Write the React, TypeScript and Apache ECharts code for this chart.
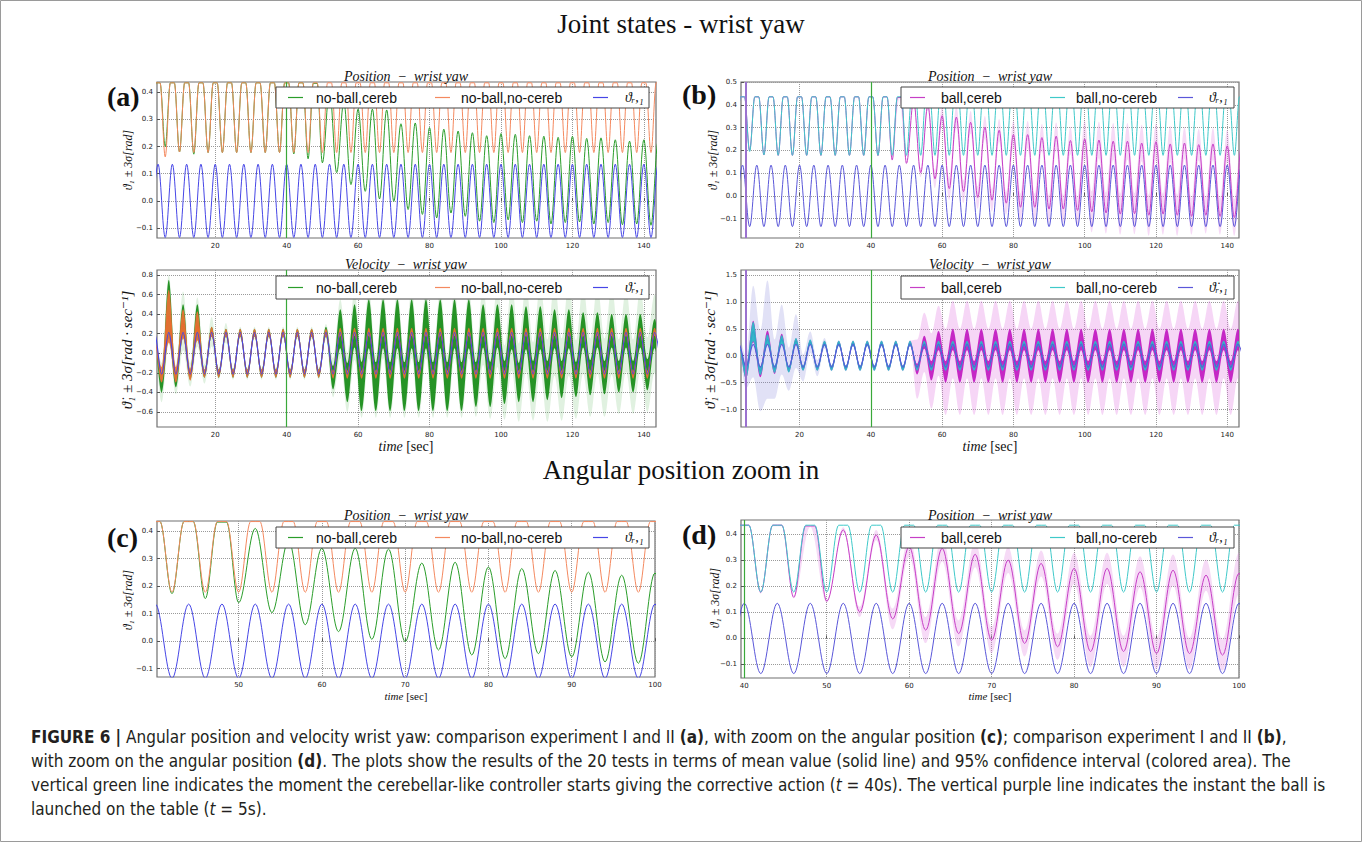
import React, { useEffect, useRef } from "react";
import * as echarts from "echarts";

// ---------------- data ----------------
// Position extremes: troughs every 4 s starting at 2 s, peaks every 4 s starting at 4 s
const posTroughTimes = [2, 6, 10, 14, 18, 22, 26, 30, 34, 38, 42, 46, 50, 54, 58, 62, 66, 70, 74, 78, 82, 86, 90, 94, 98, 102, 106, 110, 114, 118, 122, 126, 130, 134, 138, 142, 146];
const posPeakTimes = [4, 8, 12, 16, 20, 24, 28, 32, 36, 40, 44, 48, 52, 56, 60, 64, 68, 72, 76, 80, 84, 88, 92, 96, 100, 104, 108, 112, 116, 120, 124, 128, 132, 136, 140, 144];
// Velocity extremes
const velTroughTimes = [1, 5, 9, 13, 17, 21, 25, 29, 33, 37, 41, 45, 49, 53, 57, 61, 65, 69, 73, 77, 81, 85, 89, 93, 97, 101, 105, 109, 113, 117, 121, 125, 129, 133, 137, 141, 145];
const velPeakTimes = [3, 7, 11, 15, 19, 23, 27, 31, 35, 39, 43, 47, 51, 55, 59, 63, 67, 71, 75, 79, 83, 87, 91, 95, 99, 103, 107, 111, 115, 119, 123, 127, 131, 135, 139, 143];

// reference theta_r,1
const refPosPeaks = [0.135, 0.135, 0.135, 0.135, 0.135, 0.135, 0.135, 0.135, 0.135, 0.135, 0.135, 0.135, 0.135, 0.135, 0.135, 0.135, 0.135, 0.135, 0.135, 0.135, 0.135, 0.135, 0.135, 0.135, 0.135, 0.135, 0.135, 0.135, 0.135, 0.135, 0.135, 0.135, 0.135, 0.135, 0.135, 0.135];
const refPosTroughs = [-0.135, -0.135, -0.135, -0.135, -0.135, -0.135, -0.135, -0.135, -0.135, -0.135, -0.135, -0.135, -0.135, -0.135, -0.135, -0.135, -0.135, -0.135, -0.135, -0.135, -0.135, -0.135, -0.135, -0.135, -0.135, -0.135, -0.135, -0.135, -0.135, -0.135, -0.135, -0.135, -0.135, -0.135, -0.135, -0.135, -0.135];

// no-ball,no-cereb
const noCerebPosPeaks = [0.435, 0.435, 0.435, 0.435, 0.435, 0.435, 0.435, 0.435, 0.435, 0.435, 0.435, 0.435, 0.435, 0.435, 0.435, 0.435, 0.435, 0.435, 0.435, 0.435, 0.435, 0.435, 0.435, 0.435, 0.435, 0.435, 0.435, 0.435, 0.435, 0.435, 0.435, 0.435, 0.435, 0.435, 0.435, 0.435];
const noCerebPosTroughs = [0.178, 0.162, 0.18, 0.178, 0.178, 0.178, 0.178, 0.178, 0.178, 0.178, 0.178, 0.178, 0.178, 0.178, 0.178, 0.178, 0.178, 0.178, 0.178, 0.178, 0.178, 0.178, 0.178, 0.178, 0.178, 0.178, 0.178, 0.178, 0.178, 0.178, 0.178, 0.178, 0.178, 0.178, 0.178, 0.178, 0.178];

// no-ball,cereb
const cerebPosPeaks = [0.435, 0.435, 0.435, 0.435, 0.435, 0.435, 0.435, 0.435, 0.435, 0.435, 0.435, 0.433, 0.41, 0.365, 0.338, 0.338, 0.335, 0.284, 0.287, 0.27, 0.264, 0.257, 0.251, 0.24, 0.248, 0.245, 0.24, 0.238, 0.234, 0.238, 0.23, 0.232, 0.225, 0.22, 0.225, 0.22];
const cerebPosTroughs = [0.178, 0.2, 0.18, 0.172, 0.178, 0.178, 0.178, 0.178, 0.178, 0.178, 0.173, 0.155, 0.14, 0.104, 0.06, 0.035, 0.007, -0.002, -0.032, -0.05, -0.063, -0.045, -0.057, -0.075, -0.08, -0.07, -0.08, -0.075, -0.085, -0.08, -0.078, -0.085, -0.08, -0.088, -0.085, -0.09, -0.088];

// ball,no-cereb
const ballNoCerebPosPeaks = [0.435, 0.435, 0.435, 0.435, 0.435, 0.435, 0.435, 0.435, 0.435, 0.435, 0.435, 0.435, 0.435, 0.435, 0.435, 0.435, 0.435, 0.435, 0.435, 0.435, 0.435, 0.435, 0.435, 0.435, 0.435, 0.435, 0.435, 0.435, 0.435, 0.435, 0.435, 0.435, 0.435, 0.435, 0.435, 0.435];
const ballNoCerebPosTroughs = [0.178, 0.195, 0.18, 0.178, 0.178, 0.178, 0.178, 0.178, 0.178, 0.178, 0.178, 0.178, 0.178, 0.178, 0.178, 0.178, 0.178, 0.178, 0.178, 0.178, 0.178, 0.178, 0.178, 0.178, 0.178, 0.178, 0.178, 0.178, 0.178, 0.178, 0.178, 0.178, 0.178, 0.178, 0.178, 0.178, 0.178];

// ball,cereb (mean and confidence spread)
const ballCerebPosPeaks = [0.435, 0.435, 0.435, 0.435, 0.435, 0.435, 0.435, 0.435, 0.435, 0.435, 0.435, 0.432, 0.417, 0.397, 0.352, 0.346, 0.323, 0.301, 0.288, 0.269, 0.269, 0.256, 0.262, 0.243, 0.25, 0.245, 0.24, 0.24, 0.232, 0.238, 0.228, 0.232, 0.225, 0.228, 0.22, 0.22];
const ballCerebPosTroughs = [0.178, 0.2, 0.18, 0.178, 0.178, 0.178, 0.178, 0.178, 0.178, 0.178, 0.177, 0.158, 0.143, 0.102, 0.075, 0.032, 0.019, -0.007, -0.019, -0.032, -0.05, -0.05, -0.058, -0.058, -0.064, -0.07, -0.075, -0.08, -0.078, -0.085, -0.08, -0.085, -0.09, -0.085, -0.09, -0.095, -0.09];
const ballCerebPosPeakSpread = [0.004, 0.004, 0.004, 0.004, 0.004, 0.004, 0.004, 0.004, 0.004, 0.004, 0.004, 0.004, 0.01, 0.02, 0.04, 0.05, 0.05, 0.05, 0.05, 0.06, 0.06, 0.06, 0.06, 0.06, 0.08, 0.08, 0.08, 0.08, 0.08, 0.08, 0.08, 0.07, 0.07, 0.07, 0.07, 0.07];
const ballCerebPosTroughSpread = [0.004, 0.004, 0.004, 0.004, 0.004, 0.004, 0.004, 0.004, 0.004, 0.004, 0.004, 0.004, 0.004, 0.02, 0.04, 0.05, 0.05, 0.05, 0.05, 0.05, 0.06, 0.06, 0.06, 0.06, 0.06, 0.09, 0.09, 0.09, 0.09, 0.09, 0.09, 0.09, 0.08, 0.08, 0.08, 0.08, 0.08];

// velocity reference
const refVelPeaks = [0.212, 0.212, 0.212, 0.212, 0.212, 0.212, 0.212, 0.212, 0.212, 0.212, 0.212, 0.212, 0.212, 0.212, 0.212, 0.212, 0.212, 0.212, 0.212, 0.212, 0.212, 0.212, 0.212, 0.212, 0.212, 0.212, 0.212, 0.212, 0.212, 0.212, 0.212, 0.212, 0.212, 0.212, 0.212, 0.212];
const refVelTroughs = [-0.212, -0.212, -0.212, -0.212, -0.212, -0.212, -0.212, -0.212, -0.212, -0.212, -0.212, -0.212, -0.212, -0.212, -0.212, -0.212, -0.212, -0.212, -0.212, -0.212, -0.212, -0.212, -0.212, -0.212, -0.212, -0.212, -0.212, -0.212, -0.212, -0.212, -0.212, -0.212, -0.212, -0.212, -0.212, -0.212, -0.212];

// velocity no-ball,no-cereb
const noCerebVelPeakMean = [0.12, 0.38, 0.3, 0.28, 0.22, 0.21, 0.21, 0.21, 0.21, 0.21, 0.21, 0.21, 0.21, 0.22, 0.22, 0.22, 0.22, 0.22, 0.22, 0.22, 0.22, 0.22, 0.22, 0.22, 0.22, 0.22, 0.22, 0.22, 0.22, 0.22, 0.22, 0.22, 0.22, 0.22, 0.22, 0.22];
const noCerebVelPeakSpread = [0.05, 0.27, 0.15, 0.15, 0.05, 0.04, 0.04, 0.04, 0.04, 0.04, 0.04, 0.04, 0.04, 0.04, 0.04, 0.04, 0.04, 0.04, 0.04, 0.04, 0.04, 0.04, 0.04, 0.04, 0.04, 0.04, 0.04, 0.04, 0.04, 0.04, 0.04, 0.04, 0.04, 0.04, 0.04, 0.04];
const noCerebVelTroughMean = [-0.05, -0.22, -0.22, -0.22, -0.21, -0.21, -0.21, -0.21, -0.21, -0.21, -0.21, -0.21, -0.21, -0.22, -0.22, -0.22, -0.22, -0.22, -0.22, -0.22, -0.22, -0.22, -0.22, -0.22, -0.22, -0.22, -0.22, -0.22, -0.22, -0.22, -0.22, -0.22, -0.22, -0.22, -0.22, -0.22, -0.22];
const noCerebVelTroughSpread = [0.03, 0.08, 0.08, 0.06, 0.04, 0.04, 0.04, 0.04, 0.04, 0.04, 0.04, 0.04, 0.04, 0.04, 0.04, 0.04, 0.04, 0.04, 0.04, 0.04, 0.04, 0.04, 0.04, 0.04, 0.04, 0.04, 0.04, 0.04, 0.04, 0.04, 0.04, 0.04, 0.04, 0.04, 0.04, 0.04, 0.04];

// velocity no-ball,cereb
const cerebVelPeakMean = [0.12, 0.45, 0.33, 0.32, 0.22, 0.21, 0.21, 0.21, 0.21, 0.21, 0.21, 0.21, 0.22, 0.25, 0.28, 0.3, 0.3, 0.3, 0.3, 0.3, 0.3, 0.3, 0.3, 0.28, 0.28, 0.27, 0.26, 0.26, 0.25, 0.25, 0.24, 0.24, 0.23, 0.23, 0.23, 0.2];
const cerebVelPeakSpread = [0.05, 0.3, 0.17, 0.18, 0.05, 0.04, 0.04, 0.04, 0.04, 0.04, 0.04, 0.04, 0.05, 0.2, 0.22, 0.25, 0.25, 0.25, 0.25, 0.25, 0.25, 0.25, 0.25, 0.22, 0.22, 0.23, 0.22, 0.22, 0.2, 0.2, 0.18, 0.18, 0.17, 0.17, 0.17, 0.15];
const cerebVelPeakHalo = [0.1, 0.35, 0.3, 0.25, 0.15, 0.1, 0.06, 0.06, 0.06, 0.06, 0.06, 0.06, 0.08, 0.3, 0.35, 0.35, 0.35, 0.35, 0.35, 0.35, 0.35, 0.35, 0.35, 0.4, 0.42, 0.45, 0.45, 0.45, 0.48, 0.48, 0.45, 0.45, 0.45, 0.42, 0.42, 0.4];
const cerebVelTroughMean = [-0.05, -0.3, -0.27, -0.22, -0.21, -0.21, -0.21, -0.21, -0.21, -0.21, -0.21, -0.21, -0.21, -0.25, -0.3, -0.34, -0.34, -0.34, -0.34, -0.34, -0.34, -0.34, -0.34, -0.32, -0.32, -0.3, -0.3, -0.29, -0.28, -0.27, -0.27, -0.25, -0.25, -0.24, -0.24, -0.22, -0.22];
const cerebVelTroughSpread = [0.03, 0.1, 0.08, 0.05, 0.04, 0.04, 0.04, 0.04, 0.04, 0.04, 0.04, 0.04, 0.04, 0.12, 0.2, 0.25, 0.25, 0.25, 0.25, 0.25, 0.25, 0.25, 0.25, 0.23, 0.23, 0.22, 0.2, 0.21, 0.2, 0.19, 0.18, 0.18, 0.17, 0.16, 0.16, 0.16, 0.15];
const cerebVelTroughHalo = [0.05, 0.2, 0.15, 0.12, 0.1, 0.06, 0.06, 0.06, 0.06, 0.06, 0.06, 0.06, 0.06, 0.2, 0.3, 0.32, 0.32, 0.32, 0.32, 0.32, 0.32, 0.32, 0.32, 0.33, 0.35, 0.38, 0.4, 0.4, 0.42, 0.42, 0.4, 0.4, 0.4, 0.38, 0.38, 0.38, 0.36];

// velocity ball,no-cereb
const ballNoCerebVelPeakMean = [0.15, 0.45, 0.3, 0.3, 0.27, 0.25, 0.23, 0.23, 0.23, 0.23, 0.23, 0.23, 0.23, 0.23, 0.23, 0.23, 0.23, 0.23, 0.23, 0.23, 0.23, 0.23, 0.23, 0.23, 0.23, 0.23, 0.23, 0.23, 0.23, 0.23, 0.23, 0.23, 0.23, 0.23, 0.23, 0.23];
const ballNoCerebVelPeakSpread = [0.05, 0.18, 0.1, 0.08, 0.06, 0.05, 0.05, 0.05, 0.05, 0.05, 0.05, 0.05, 0.05, 0.05, 0.05, 0.05, 0.05, 0.05, 0.05, 0.05, 0.05, 0.05, 0.05, 0.05, 0.05, 0.05, 0.05, 0.05, 0.05, 0.05, 0.05, 0.05, 0.05, 0.05, 0.05, 0.05];
const ballNoCerebVelPeakHalo = [0.2, 0.85, 1.1, 0.65, 0.5, 0.2, 0.1, 0.06, 0.06, 0.06, 0.06, 0.06, 0.06, 0.06, 0.06, 0.06, 0.06, 0.06, 0.06, 0.06, 0.06, 0.06, 0.06, 0.06, 0.06, 0.06, 0.06, 0.06, 0.06, 0.06, 0.06, 0.06, 0.06, 0.06, 0.06, 0.06];
const ballNoCerebVelTroughMean = [-0.05, -0.3, -0.28, -0.25, -0.25, -0.23, -0.23, -0.23, -0.23, -0.23, -0.23, -0.23, -0.23, -0.23, -0.23, -0.23, -0.23, -0.23, -0.23, -0.23, -0.23, -0.23, -0.23, -0.23, -0.23, -0.23, -0.23, -0.23, -0.23, -0.23, -0.23, -0.23, -0.23, -0.23, -0.23, -0.23, -0.23];
const ballNoCerebVelTroughSpread = [0.03, 0.12, 0.08, 0.07, 0.06, 0.05, 0.05, 0.05, 0.05, 0.05, 0.05, 0.05, 0.05, 0.05, 0.05, 0.05, 0.05, 0.05, 0.05, 0.05, 0.05, 0.05, 0.05, 0.05, 0.05, 0.05, 0.05, 0.05, 0.05, 0.05, 0.05, 0.05, 0.05, 0.05, 0.05, 0.05, 0.05];
const ballNoCerebVelTroughHalo = [0.1, 0.3, 0.75, 0.55, 0.4, 0.25, 0.15, 0.06, 0.06, 0.06, 0.06, 0.06, 0.06, 0.06, 0.06, 0.06, 0.06, 0.06, 0.06, 0.06, 0.06, 0.06, 0.06, 0.06, 0.06, 0.06, 0.06, 0.06, 0.06, 0.06, 0.06, 0.06, 0.06, 0.06, 0.06, 0.06, 0.06];

// velocity ball,cereb
const ballCerebVelPeakMean = [0.15, 0.45, 0.35, 0.33, 0.27, 0.25, 0.23, 0.23, 0.23, 0.23, 0.23, 0.23, 0.23, 0.25, 0.28, 0.3, 0.3, 0.3, 0.3, 0.3, 0.3, 0.3, 0.3, 0.3, 0.3, 0.3, 0.3, 0.3, 0.3, 0.3, 0.3, 0.3, 0.3, 0.3, 0.3, 0.3];
const ballCerebVelPeakSpread = [0.05, 0.2, 0.12, 0.08, 0.05, 0.04, 0.04, 0.04, 0.04, 0.04, 0.04, 0.04, 0.04, 0.12, 0.18, 0.2, 0.2, 0.2, 0.2, 0.2, 0.2, 0.2, 0.2, 0.2, 0.2, 0.2, 0.2, 0.2, 0.2, 0.2, 0.2, 0.2, 0.2, 0.2, 0.2, 0.2];
const ballCerebVelPeakHalo = [0.05, 0.05, 0.05, 0.05, 0.05, 0.05, 0.05, 0.05, 0.05, 0.05, 0.05, 0.05, 0.05, 0.55, 0.65, 0.72, 0.72, 0.72, 0.72, 0.72, 0.72, 0.72, 0.72, 0.72, 0.72, 0.72, 0.72, 0.72, 0.72, 0.72, 0.72, 0.72, 0.72, 0.72, 0.72, 0.72];
const ballCerebVelTroughMean = [-0.05, -0.3, -0.3, -0.27, -0.25, -0.23, -0.23, -0.23, -0.23, -0.23, -0.23, -0.23, -0.23, -0.25, -0.28, -0.3, -0.3, -0.3, -0.3, -0.3, -0.3, -0.3, -0.3, -0.3, -0.3, -0.3, -0.3, -0.3, -0.3, -0.3, -0.3, -0.3, -0.3, -0.3, -0.3, -0.3, -0.3];
const ballCerebVelTroughSpread = [0.03, 0.12, 0.1, 0.07, 0.05, 0.04, 0.04, 0.04, 0.04, 0.04, 0.04, 0.04, 0.04, 0.1, 0.18, 0.2, 0.2, 0.2, 0.2, 0.2, 0.2, 0.2, 0.2, 0.2, 0.2, 0.2, 0.2, 0.2, 0.2, 0.2, 0.2, 0.2, 0.2, 0.2, 0.2, 0.2, 0.2];
const ballCerebVelTroughHalo = [0.05, 0.05, 0.05, 0.05, 0.05, 0.05, 0.05, 0.05, 0.05, 0.05, 0.05, 0.05, 0.05, 0.55, 0.7, 0.8, 0.8, 0.8, 0.8, 0.8, 0.8, 0.8, 0.8, 0.8, 0.8, 0.8, 0.8, 0.8, 0.8, 0.8, 0.8, 0.8, 0.8, 0.8, 0.8, 0.8, 0.8];

// tick labels
const xTicksFull = [20, 40, 60, 80, 100, 120, 140];
const xTicksC = [50, 60, 70, 80, 90, 100];
const xTicksD = [40, 50, 60, 70, 80, 90, 100];
const yTicksPos = [-0.1, 0.0, 0.1, 0.2, 0.3, 0.4];
const yTicksPosB = [-0.1, 0.0, 0.1, 0.2, 0.3, 0.4, 0.5];
const yTicksVelA = [-0.6, -0.4, -0.2, 0.0, 0.2, 0.4, 0.6, 0.8];
const yTicksVelB = [-1.0, -0.5, 0.0, 0.5, 1.0, 1.5];
const cerebStart = 40;
const ballLaunch = 5;

// ---------------- helpers ----------------
const K = 0.36;
const PLATEAU = 0.43;
const PLATEAU_HALF = 0.55;
const SERIF = '"Liberation Serif", "DejaVu Serif", serif';
const SANS = '"Liberation Sans", Arial, sans-serif';
const TICKF = '"DejaVu Sans", sans-serif';
const CAPF = '"Liberation Sans Narrow", "DejaVu Sans Condensed", "Liberation Sans", sans-serif';

const COL = {
  green: "#2a9d2a",
  orange: "#f4895f",
  blue: "#4646e6",
  magenta: "#c63fc6",
  cyan: "#3fc9c9",
  refB: "#5a57d9",
  vgreen: "#3aa83a",
  purple: "#9b72cf",
};

type P = [number, number];

function wave(tT: number[], vT: number[], tP: number[], vP: number[], flat: boolean): P[] {
  const pts: { t: number; v: number; peak: boolean }[] = [];
  tT.forEach((t, i) => pts.push({ t, v: vT[i], peak: false }));
  tP.forEach((t, i) => pts.push({ t, v: vP[i], peak: true }));
  pts.sort((a, b) => a.t - b.t);
  const out: P[] = [];
  for (const p of pts) {
    if (flat && p.peak && p.v >= PLATEAU) {
      out.push([p.t - PLATEAU_HALF, p.v]);
      out.push([p.t + PLATEAU_HALF, p.v]);
    } else out.push([p.t, p.v]);
  }
  return out;
}

function band(tT: number[], mT: number[], sT: number[], tP: number[], mP: number[], sP: number[], flat: boolean) {
  return {
    upper: wave(tT, mT.map((v, i) => v + sT[i]), tP, mP.map((v, i) => v + sP[i]), flat),
    lower: wave(tT, mT.map((v, i) => v - sT[i]), tP, mP.map((v, i) => v - sP[i]), flat),
  };
}

function bez(pts: number[][]): string {
  let s = "";
  for (let i = 1; i < pts.length; i++) {
    const [x0, y0] = pts[i - 1];
    const [x1, y1] = pts[i];
    const dx = (x1 - x0) * K;
    s += `C${(x0 + dx).toFixed(2)} ${y0.toFixed(2)} ${(x1 - dx).toFixed(2)} ${y1.toFixed(2)} ${x1.toFixed(2)} ${y1.toFixed(2)}`;
  }
  return s;
}

function bandSeries(g: number, edges: { upper: P[]; lower: P[] }, fill: string) {
  return {
    type: "custom",
    xAxisIndex: g,
    yAxisIndex: g,
    clip: true,
    silent: true,
    data: [edges.upper[Math.floor(edges.upper.length / 2)]],
    renderItem: (_params: any, api: any) => {
      const up = edges.upper.map((p) => api.coord(p));
      const lo = edges.lower.map((p) => api.coord(p)).reverse();
      const d = `M${up[0][0].toFixed(2)} ${up[0][1].toFixed(2)}` + bez(up) + `L${lo[0][0].toFixed(2)} ${lo[0][1].toFixed(2)}` + bez(lo) + "Z";
      return { type: "path", shape: { pathData: d }, style: { fill, stroke: null } };
    },
  };
}

function lineSeries(g: number, name: string, data: P[], color: string, width = 1, extra: any = {}) {
  return {
    type: "line",
    name,
    xAxisIndex: g,
    yAxisIndex: g,
    data,
    symbol: "none",
    showSymbol: false,
    smooth: K,
    smoothMonotone: "x",
    lineStyle: { color, width },
    itemStyle: { color },
    silent: true,
    ...extra,
  };
}

function vlines(xs: [number, string, number][]) {
  return {
    markLine: {
      silent: true,
      symbol: ["none", "none"],
      label: { show: false },
      animation: false,
      data: xs.map(([x, c, w]) => ({ xAxis: x, lineStyle: { color: c, width: w, type: "solid" } })),
    },
  };
}

const fmt = (v: number) => (v < 0 ? "\u2212" : "") + Math.abs(v).toFixed(1);

const grids = [
  { left: 157, top: 82, width: 499, height: 156 },
  { left: 157, top: 270, width: 499, height: 157 },
  { left: 741, top: 82, width: 498, height: 156 },
  { left: 741, top: 270, width: 498, height: 157 },
  { left: 157, top: 521, width: 498, height: 156 },
  { left: 741, top: 520, width: 498, height: 158 },
];
const xRange = [[3.7, 143.4], [3.7, 143.4], [3.57, 143.3], [3.57, 143.3], [40.2, 100], [39.6, 100]];
const yRange = [[-0.137, 0.438], [-0.754, 0.851], [-0.185, 0.5], [-1.324, 1.593], [-0.13, 0.437], [-0.152, 0.455]];
const xTickSets = [xTicksFull, xTicksFull, xTicksFull, xTicksFull, xTicksC, xTicksD];
const yTickSets = [yTicksPos, yTicksVelA, yTicksPosB, yTicksVelB, yTicksPos, yTicksPos];

function buildOption() {
  const refPos = wave(posTroughTimes, refPosTroughs, posPeakTimes, refPosPeaks, true);
  const noCerebPos = wave(posTroughTimes, noCerebPosTroughs, posPeakTimes, noCerebPosPeaks, true);
  const cerebPos = wave(posTroughTimes, cerebPosTroughs, posPeakTimes, cerebPosPeaks, true);
  const ballNoCerebPos = wave(posTroughTimes, ballNoCerebPosTroughs, posPeakTimes, ballNoCerebPosPeaks, true);
  const ballCerebPos = wave(posTroughTimes, ballCerebPosTroughs, posPeakTimes, ballCerebPosPeaks, true);
  const ballCerebPosBand = band(posTroughTimes, ballCerebPosTroughs, ballCerebPosTroughSpread, posPeakTimes, ballCerebPosPeaks, ballCerebPosPeakSpread, true);

  const refVel = wave(velTroughTimes, refVelTroughs, velPeakTimes, refVelPeaks, false);
  const noCerebVelBand = band(velTroughTimes, noCerebVelTroughMean, noCerebVelTroughSpread, velPeakTimes, noCerebVelPeakMean, noCerebVelPeakSpread, false);
  const cerebVelBand = band(velTroughTimes, cerebVelTroughMean, cerebVelTroughSpread, velPeakTimes, cerebVelPeakMean, cerebVelPeakSpread, false);
  const cerebVelHalo = band(velTroughTimes, cerebVelTroughMean, cerebVelTroughHalo, velPeakTimes, cerebVelPeakMean, cerebVelPeakHalo, false);
  const ballNoCerebVelBand = band(velTroughTimes, ballNoCerebVelTroughMean, ballNoCerebVelTroughSpread, velPeakTimes, ballNoCerebVelPeakMean, ballNoCerebVelPeakSpread, false);
  const ballNoCerebVelHalo = band(velTroughTimes, ballNoCerebVelTroughMean, ballNoCerebVelTroughHalo, velPeakTimes, ballNoCerebVelPeakMean, ballNoCerebVelPeakHalo, false);
  const ballCerebVelBand = band(velTroughTimes, ballCerebVelTroughMean, ballCerebVelTroughSpread, velPeakTimes, ballCerebVelPeakMean, ballCerebVelPeakSpread, false);
  const ballCerebVelHalo = band(velTroughTimes, ballCerebVelTroughMean, ballCerebVelTroughHalo, velPeakTimes, ballCerebVelPeakMean, ballCerebVelPeakHalo, false);
  const ballNoCerebVelMean = wave(velTroughTimes, ballNoCerebVelTroughMean, velPeakTimes, ballNoCerebVelPeakMean, false);
  const noCerebVelMean = wave(velTroughTimes, noCerebVelTroughMean, velPeakTimes, noCerebVelPeakMean, false);

  const series: any[] = [
    // (a) position
    lineSeries(0, "no-ball,cereb", cerebPos, COL.green),
    lineSeries(0, "no-ball,no-cereb", noCerebPos, COL.orange),
    lineSeries(0, "ref", refPos, COL.blue, 1, vlines([[cerebStart, COL.vgreen, 1.2]])),
    // (a) velocity
    bandSeries(1, cerebVelHalo, "rgba(60,170,60,0.16)"),
    bandSeries(1, cerebVelBand, "rgba(24,140,24,0.93)"),
    bandSeries(1, noCerebVelBand, "rgba(242,112,52,0.9)"),
    lineSeries(1, "no-ball,no-cereb v", noCerebVelMean, "#f06a30", 0.8),
    lineSeries(1, "ref v", refVel, COL.blue, 1.2, vlines([[cerebStart, COL.vgreen, 1.2]])),
    // (b) position
    bandSeries(2, ballCerebPosBand, "rgba(226,140,226,0.32)"),
    lineSeries(2, "ball,cereb", ballCerebPos, COL.magenta),
    lineSeries(2, "ball,no-cereb", ballNoCerebPos, COL.cyan),
    lineSeries(2, "ref b", refPos, COL.refB, 1, vlines([[cerebStart, COL.vgreen, 1.2], [ballLaunch, COL.purple, 2]])),
    // (b) velocity
    bandSeries(3, ballNoCerebVelHalo, "rgba(120,120,215,0.22)"),
    bandSeries(3, ballCerebVelHalo, "rgba(225,120,225,0.3)"),
    bandSeries(3, ballCerebVelBand, "rgba(192,20,192,0.9)"),
    bandSeries(3, ballNoCerebVelBand, "rgba(40,195,200,0.9)"),
    lineSeries(3, "ball,no-cereb v", ballNoCerebVelMean, "#2aa6c8", 0.8),
    lineSeries(3, "ref bv", refVel, COL.refB, 1.2, vlines([[cerebStart, COL.vgreen, 1.2], [ballLaunch, COL.purple, 2]])),
    // (c)
    lineSeries(4, "no-ball,cereb c", cerebPos, COL.green),
    lineSeries(4, "no-ball,no-cereb c", noCerebPos, COL.orange),
    lineSeries(4, "ref c", refPos, COL.blue),
    // (d)
    bandSeries(5, ballCerebPosBand, "rgba(226,140,226,0.32)"),
    lineSeries(5, "ball,cereb d", ballCerebPos, COL.magenta),
    lineSeries(5, "ball,no-cereb d", ballNoCerebPos, COL.cyan),
    lineSeries(5, "ref d", refPos, COL.refB, 1, vlines([[cerebStart, COL.vgreen, 1.2]])),
  ];

  const xAxis = grids.map((_, i) => ({
    type: "value",
    gridIndex: i,
    min: xRange[i][0],
    max: xRange[i][1],
    axisLine: { show: false },
    axisTick: { show: true, inside: true, length: 3, customValues: xTickSets[i], lineStyle: { color: "#555" } },
    axisLabel: { customValues: xTickSets[i], fontSize: 7, color: "#222", fontFamily: TICKF, margin: 4, formatter: (v: number) => String(Math.round(v)) },
    splitLine: { show: true, lineStyle: { type: "dotted", color: "#9a9a9a", width: 1 } },
  }));
  const yAxis = grids.map((_, i) => ({
    type: "value",
    gridIndex: i,
    min: yRange[i][0],
    max: yRange[i][1],
    axisLine: { show: false },
    axisTick: { show: true, inside: true, length: 3, customValues: yTickSets[i], lineStyle: { color: "#555" } },
    axisLabel: { customValues: yTickSets[i], fontSize: 7, color: "#222", fontFamily: TICKF, margin: 4, formatter: fmt },
    splitLine: { show: true, lineStyle: { type: "dotted", color: "#9a9a9a", width: 1 } },
  }));

  const Z = 100;
  const txt = (x: number, y: number, text: string, font: string, extra: any = {}) => ({
    type: "text",
    z: Z,
    x,
    y,
    style: { text, font, fill: "#111", align: "center", verticalAlign: "middle", ...(extra.style || {}) },
    ...(extra.el || {}),
  });

  const legend = (x: number, y: number, w: number, h: number, items: [string, string, number, number, boolean][]) => {
    const els: any[] = [{ type: "rect", z: Z, shape: { x, y, width: w, height: h }, style: { fill: "#fff", stroke: "#444", lineWidth: 1 } }];
    items.forEach(([label, color, lx, tx, math]) => {
      els.push({ type: "line", z: Z + 1, shape: { x1: x + lx, y1: y + h / 2, x2: x + lx + 15, y2: y + h / 2 }, style: { stroke: color, lineWidth: 1.2 } });
      els.push({
        type: "text",
        z: Z + 1,
        x: x + tx,
        y: y + h / 2,
        style: { text: label, fill: "#111", font: math ? `italic 14px ${SERIF}` : `14px ${SANS}`, align: "left", verticalAlign: "middle" },
      });
    });
    return els;
  };

  const posTitle = "Position  \u2212  wrist yaw";
  const velTitle = "Velocity  \u2212  wrist yaw";
  const posY = "\u03d1\u2081 \u00b1 3\u03c3[rad]";
  const velY = "\u03d1\u0307\u2081 \u00b1 3\u03c3[rad \u00b7 sec\u207b\u00b9]";
  const refLab = "\u03d1\u1d63,\u2081";
  const refVelLab = "\u03d1\u0307\u1d63,\u2081";
  const timeRich = { i: { fontStyle: "italic", fontFamily: SERIF, fontSize: 14, fill: "#111" }, n: { fontFamily: SERIF, fontSize: 14, fill: "#111" } };
  const timeRichS = { i: { fontStyle: "italic", fontFamily: SERIF, fontSize: 11, fill: "#111" }, n: { fontFamily: SERIF, fontSize: 11, fill: "#111" } };

  const CAP_SIZE = 17;
  const capRich = {
    b: { fontWeight: "bold", fontFamily: CAPF, fontSize: CAP_SIZE, fill: "#231f20" },
    i: { fontStyle: "italic", fontFamily: CAPF, fontSize: CAP_SIZE, fill: "#231f20" },
    n: { fontFamily: CAPF, fontSize: CAP_SIZE, fill: "#231f20" },
  };
  const capLines = [
    "{b|FIGURE 6 |}{n| Angular position and velocity wrist yaw: comparison experiment I and II }{b|(a)}{n|, with zoom on the angular position }{b|(c)}{n|; comparison experiment I and II }{b|(b)}{n|,}",
    "{n|with zoom on the angular position }{b|(d)}{n|. The plots show the results of the 20 tests in terms of mean value (solid line) and 95% confidence interval (colored area). The}",
    "{n|vertical green line indicates the moment the cerebellar-like controller starts giving the corrective action (}{i|t}{n| = 40s). The vertical purple line indicates the instant the ball is}",
    "{n|launched on the table (}{i|t}{n| = 5s).}",
  ];

  const graphic: any[] = [
    { type: "rect", z: Z, shape: { x: 0.5, y: 0.5, width: 1361, height: 841 }, style: { fill: "none", stroke: "#9a9a9a", lineWidth: 1 } },
    txt(681, 24, "Joint states - wrist yaw", `27px ${SERIF}`),
    txt(681, 470, "Angular position zoom in", `27px ${SERIF}`),
    // subplot titles
    txt(406, 76, posTitle, `italic 14px ${SERIF}`),
    txt(990, 76, posTitle, `italic 14px ${SERIF}`),
    txt(406, 264, velTitle, `italic 14px ${SERIF}`),
    txt(990, 264, velTitle, `italic 14px ${SERIF}`),
    txt(406, 515, posTitle, `italic 14px ${SERIF}`),
    txt(990, 515, posTitle, `italic 14px ${SERIF}`),
    // panel letters
    txt(107, 96, "(a)", `bold 28px ${SERIF}`, { style: { align: "left" } }),
    txt(682, 94, "(b)", `bold 28px ${SERIF}`, { style: { align: "left" } }),
    txt(107, 537, "(c)", `bold 28px ${SERIF}`, { style: { align: "left" } }),
    txt(682, 534, "(d)", `bold 28px ${SERIF}`, { style: { align: "left" } }),
    // y-axis names
    txt(128, 160, posY, `italic 12px ${SERIF}`, { el: { rotation: Math.PI / 2 } }),
    txt(127, 350, velY, `italic 15px ${SERIF}`, { el: { rotation: Math.PI / 2 } }),
    txt(713, 160, posY, `italic 12px ${SERIF}`, { el: { rotation: Math.PI / 2 } }),
    txt(710, 350, velY, `italic 15px ${SERIF}`, { el: { rotation: Math.PI / 2 } }),
    txt(128, 600, posY, `italic 12px ${SERIF}`, { el: { rotation: Math.PI / 2 } }),
    txt(715, 598, posY, `italic 12px ${SERIF}`, { el: { rotation: Math.PI / 2 } }),
    // x-axis names
    txt(406, 446, "", `14px ${SERIF}`, { style: { text: "{i|time} {n|[sec]}", rich: timeRich } }),
    txt(990, 446, "", `14px ${SERIF}`, { style: { text: "{i|time} {n|[sec]}", rich: timeRich } }),
    txt(406, 696, "", `11px ${SERIF}`, { style: { text: "{i|time} {n|[sec]}", rich: timeRichS } }),
    txt(990, 696, "", `11px ${SERIF}`, { style: { text: "{i|time} {n|[sec]}", rich: timeRichS } }),
    // legends
    ...legend(276, 87, 373, 21, [["no-ball,cereb", COL.green, 12, 40, false], ["no-ball,no-cereb", COL.orange, 159, 185, false], [refLab, COL.blue, 317, 349, true]]),
    ...legend(276, 276, 373, 23, [["no-ball,cereb", COL.green, 12, 40, false], ["no-ball,no-cereb", COL.orange, 159, 185, false], [refVelLab, COL.blue, 317, 349, true]]),
    ...legend(901, 87, 333, 21, [["ball,cereb", COL.magenta, 9, 40, false], ["ball,no-cereb", COL.cyan, 149, 175, false], [refLab, COL.refB, 277, 308, true]]),
    ...legend(901, 276, 333, 23, [["ball,cereb", COL.magenta, 9, 40, false], ["ball,no-cereb", COL.cyan, 149, 175, false], [refVelLab, COL.refB, 277, 308, true]]),
    ...legend(276, 527, 373, 21, [["no-ball,cereb", COL.green, 12, 40, false], ["no-ball,no-cereb", COL.orange, 159, 185, false], [refLab, COL.blue, 317, 349, true]]),
    ...legend(901, 527, 333, 21, [["ball,cereb", COL.magenta, 9, 40, false], ["ball,no-cereb", COL.cyan, 149, 175, false], [refLab, COL.refB, 277, 308, true]]),
    // caption
    ...capLines.map((t, i) => ({
      type: "text",
      z: Z,
      x: 31,
      y: 737 + i * 24,
      style: { text: t, rich: capRich, font: `${CAP_SIZE}px ${CAPF}`, fill: "#231f20", align: "left", verticalAlign: "middle" },
    })),
  ];

  return {
    animation: false,
    backgroundColor: "#ffffff",
    textStyle: { fontFamily: TICKF },
    grid: grids.map((g) => ({ ...g, show: true, borderColor: "#707070", borderWidth: 1.2, backgroundColor: "transparent", containLabel: false, outerBoundsMode: "none" })),
    xAxis,
    yAxis,
    series,
    graphic,
  };
}

export default function App() {
  const ref = useRef<HTMLDivElement>(null);
  useEffect(() => {
    if (!ref.current) return;
    const chart = echarts.init(ref.current, undefined, { renderer: "svg", width: 1363, height: 843 });
    chart.setOption(buildOption() as any);
    return () => {
      chart.dispose();
    };
  }, []);
  return <div ref={ref} style={{ position: "absolute", left: 0, top: 0, width: 1363, height: 843, background: "#fff" }} />;
}
